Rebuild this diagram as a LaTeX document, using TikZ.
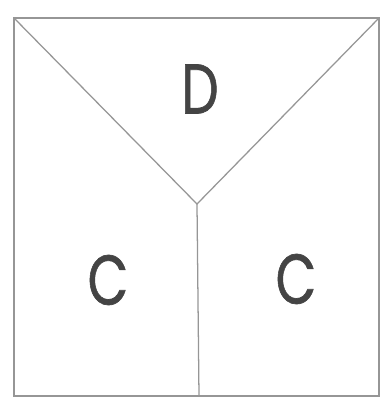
\documentclass[tikz,border=0pt]{standalone}
\usepackage{fontspec}
\newfontfamily\letterfont[FakeBold=1]{Poppins}
\usepackage{tikz}
\usetikzlibrary{positioning}
\definecolor{EdgeGray}{RGB}{150, 150, 150}
\definecolor{InkGray}{RGB}{68, 68, 68}
\newcommand{\piecename}[1]{\scalebox{0.75}[1]{#1}}

\begin{document}
\begin{tikzpicture}[
            x=0.025cm, y=-0.025cm,
            edge/.style={draw=EdgeGray, line width=0.9pt},
            piece/.style={text=InkGray, font=\letterfont\fontsize{50}{50}\selectfont, inner sep=0pt}
        ]
        \useasboundingbox (0,0) rectangle (385,397);

        % The Square
        \coordinate (tl) at (14,18);
        \coordinate (tr) at (379,18);
        \coordinate (bl) at (14,396);
        \coordinate (br) at (379,396);
        \coordinate (mid) at (197,204);
        \coordinate (bm) at (199,396);
        \draw[edge] (tl) -- (tr) -- (br) -- (bl) -- cycle;
        \draw[edge] (tl) -- (mid) -- (tr);
        \draw[edge] (mid) -- (bm);

        % Labels
        \node[piece] (d) at (200,89) {\piecename{D}};
        \node[piece] (c1) at (108,280) {\piecename{C}};
        \node[piece] (c2) at (296,279) {\piecename{C}};

        \end{tikzpicture}
\end{document}
